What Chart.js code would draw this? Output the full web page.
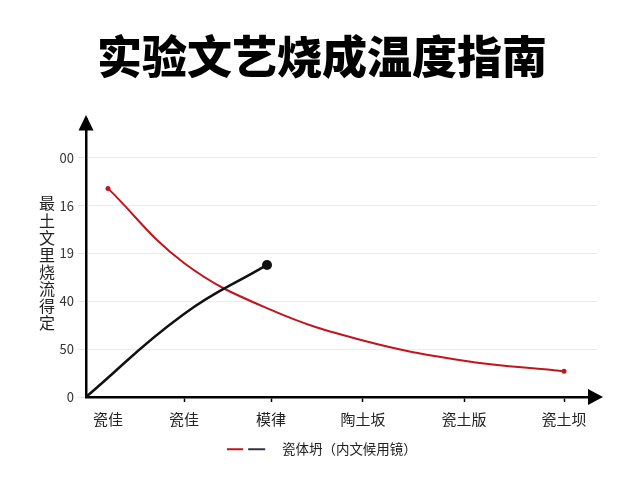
<!DOCTYPE html>
<html>
<head>
<meta charset="utf-8">
<script src="https://cdn.jsdelivr.net/npm/chart.js@4/dist/chart.umd.min.js"></script>
<style>
  html, body { margin: 0; padding: 0; background: #ffffff; }
  #wrap { width: 640px; height: 480px; position: relative; }
</style>
</head>
<body>
<div id="wrap"><canvas id="c"></canvas></div>
<script>
// ---- data ----
const chartTitle = '实验文艺烧成温度指南';
const yAxisTitle = '最土文里烧流得定';
const seriesLabel = '瓷体坍（内文候用镜）';
const categories = ['瓷佳', '瓷佳', '模律', '陶土坂', '瓷土版', '瓷土坝'];
const categoryX = [0.22, 0.98, 1.85, 2.77, 3.78, 4.78];
const redValues = [218, 140, 91, 59, 38, 27];
const blackX = [0, 0.97, 1.81];
const blackValues = [0, 86, 138];
const yTickValues = [0, 50, 100, 150, 200, 250];
const yTickLabels = ['0', '50', '40', '19', '16', '00'];

const RED = '#c0151d';
const BLACK = '#111111';
const FONT = "'Noto Sans CJK SC', 'Noto Sans', sans-serif";

// legend symbol: red dash + dark dash
const legendSymbol = document.createElement('canvas');
legendSymbol.width = 48; legendSymbol.height = 4;
(function () {
  const g = legendSymbol.getContext('2d');
  g.fillStyle = RED; g.fillRect(0, 1, 16, 2);
  g.fillStyle = '#333340'; g.fillRect(21, 1, 17, 2);
})();

const decorations = {
  id: 'decorations',
  afterDraw(chart) {
    const { ctx, chartArea: a } = chart;
    ctx.save();
    ctx.fillStyle = '#000';
    // y-axis arrow
    ctx.beginPath();
    ctx.moveTo(a.left, a.top - 4.5);
    ctx.lineTo(a.left - 7.5, a.top + 11);
    ctx.lineTo(a.left + 7.5, a.top + 11);
    ctx.closePath();
    ctx.fill();
    // x-axis arrow
    ctx.beginPath();
    ctx.moveTo(a.right + 6, a.bottom);
    ctx.lineTo(a.right - 9, a.bottom - 8);
    ctx.lineTo(a.right - 9, a.bottom + 8);
    ctx.closePath();
    ctx.fill();
    // vertical stacked y-axis title
    ctx.fillStyle = '#222';
    ctx.font = '16px ' + FONT;
    ctx.textAlign = 'center';
    ctx.textBaseline = 'middle';
    const chars = Array.from(yAxisTitle);
    const pitch = 17.1;
    const cy = (a.top + a.bottom) / 2 + 5;
    const y0 = cy - (chars.length - 1) * pitch / 2;
    chars.forEach((ch, i) => ctx.fillText(ch, a.left - 39, y0 + i * pitch));
    ctx.restore();
  }
};

new Chart(document.getElementById('c'), {
  type: 'line',
  data: {
    datasets: [
      {
        label: seriesLabel,
        data: categoryX.map((x, i) => ({ x, y: redValues[i] })),
        borderColor: RED,
        backgroundColor: RED,
        borderWidth: 2,
        tension: 0.4,
        pointRadius: redValues.map((v, i) => (i === 0 || i === redValues.length - 1) ? 2.5 : 0),
        pointBorderWidth: 0,
        order: 1,
        clip: false
      },
      {
        label: '',
        data: blackX.map((x, i) => ({ x, y: blackValues[i] })),
        borderColor: BLACK,
        backgroundColor: BLACK,
        borderWidth: 2.5,
        tension: 0.45,
        pointRadius: blackValues.map((v, i) => i === blackValues.length - 1 ? 5 : 0),
        pointBorderWidth: 0,
        order: 0,
        clip: false
      }
    ]
  },
  options: {
    responsive: true,
    maintainAspectRatio: false,
    animation: false,
    devicePixelRatio: 1,
    layout: { padding: { left: 47, right: 43, top: 0, bottom: 14 } },
    plugins: {
      tooltip: { enabled: false },
      title: {
        display: true,
        text: chartTitle,
        color: '#000',
        font: { family: FONT, size: 45, weight: 900, lineHeight: 1.2 },
        padding: { top: 30, bottom: 35.5 }
      },
      legend: {
        display: true,
        position: 'bottom',
        labels: {
          usePointStyle: true,
          pointStyleWidth: 48,
          padding: 10,
          color: '#222',
          font: { family: FONT, size: 13.5 },
          generateLabels: () => [{
            text: seriesLabel,
            pointStyle: legendSymbol,
            fillStyle: RED,
            strokeStyle: RED,
            lineWidth: 0,
            hidden: false,
            datasetIndex: 0,
            fontColor: '#222'
          }]
        }
      }
    },
    scales: {
      x: {
        type: 'linear',
        min: 0,
        max: 5.11,
        afterBuildTicks: s => { s.ticks = categoryX.map(v => ({ value: v })); },
        afterFit: s => { s.height = 35.5; },
        ticks: {
          autoSkip: false,
          maxRotation: 0,
          padding: 8,
          color: '#222',
          font: { family: FONT, size: 15 },
          callback: (v, i) => categories[i]
        },
        grid: {
          drawOnChartArea: false,
          tickLength: 5,
          tickWidth: 1.5,
          tickColor: c => c.index === 0 ? 'rgba(0,0,0,0)' : '#000'
        },
        border: { color: '#000', width: 2.5 }
      },
      y: {
        type: 'linear',
        min: 0,
        max: 290,
        afterBuildTicks: s => { s.ticks = yTickValues.map(v => ({ value: v })); },
        afterFit: s => { s.width = 39; },
        ticks: {
          padding: 4,
          color: '#333',
          font: { family: FONT, size: 13 },
          callback: (v, i) => yTickLabels[i]
        },
        grid: {
          color: '#ececec',
          lineWidth: 1,
          tickLength: 8,
          tickColor: '#e4e4e4'
        },
        border: { color: '#000', width: 2.5 }
      }
    }
  },
  plugins: [decorations]
});
</script>
</body>
</html>
